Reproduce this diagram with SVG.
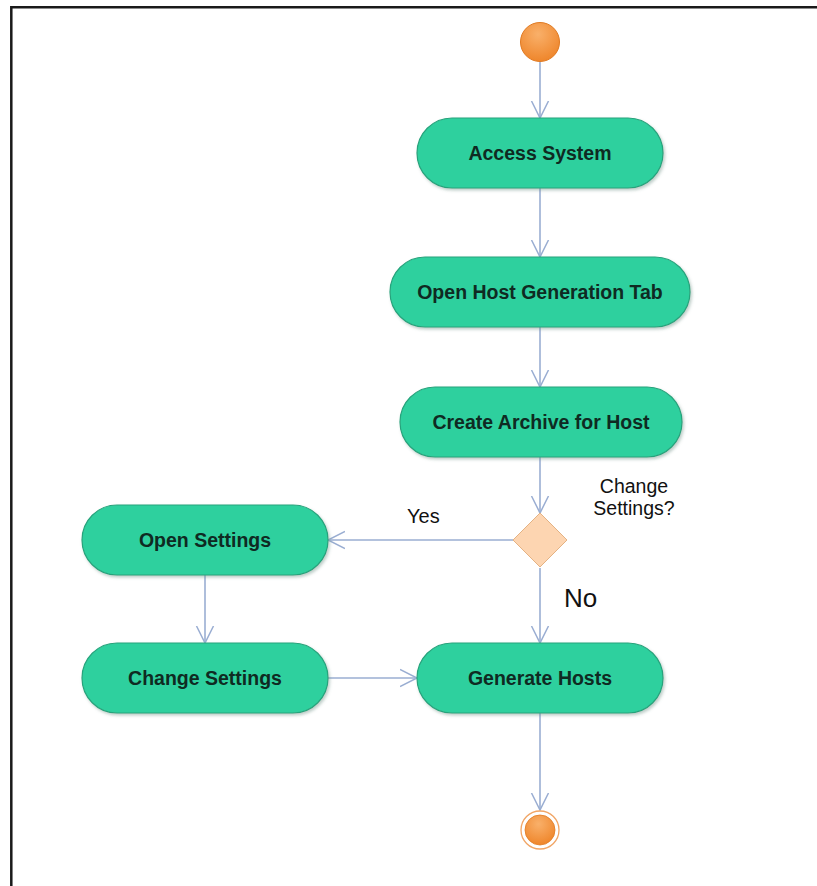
<svg xmlns="http://www.w3.org/2000/svg" width="817" height="886" viewBox="0 0 817 886">
  <style>
    .act rect { fill: #2fd09e; stroke: #27a37c; stroke-width: 1.2; filter: url(#shadow); }
    .act text { font-family: "Liberation Sans", Arial, sans-serif; font-weight: bold; font-size: 19.5px; fill: #0f2a22; text-anchor: middle; }
    .flow { fill: none; stroke: #9aaed2; stroke-width: 1.6; marker-end: url(#open); }
    .lbl { font-family: "Liberation Sans", Arial, sans-serif; fill: #111; }
    .frame { stroke: #1a1a1a; stroke-width: 2.5; fill: none; }
  </style>
  <defs>
    <marker id="open" viewBox="0 0 20 20" refX="17" refY="10" markerWidth="20" markerHeight="20" markerUnits="userSpaceOnUse" orient="auto">
      <path d="M0 1.5 L17 10 L0 18.5" fill="none" stroke="#9aaed2" stroke-width="1.5"/>
    </marker>
    <radialGradient id="ball" cx="0.45" cy="0.3" r="0.75">
      <stop offset="0" stop-color="#f9b06a"/>
      <stop offset="1" stop-color="#ee8327"/>
    </radialGradient>
    <filter id="shadow" x="-10%" y="-20%" width="125%" height="150%">
      <feDropShadow dx="1.5" dy="2" stdDeviation="1.5" flood-color="#6f8f84" flood-opacity="0.45"/>
    </filter>
  </defs>

  <rect width="817" height="886" fill="#ffffff"/>
  <!-- page frame: top and left edges -->
  <path class="frame" d="M11.3 886 V7.3 H817"/>

  <!-- connectors -->
  <g id="connectors">
    <line class="flow" x1="540" y1="62" x2="540" y2="118"/>
    <line class="flow" x1="540" y1="188" x2="540" y2="257"/>
    <line class="flow" x1="540" y1="327" x2="540" y2="387"/>
    <line class="flow" x1="540" y1="457" x2="540" y2="513"/>
    <line class="flow" x1="513" y1="540" x2="328" y2="540"/>
    <line class="flow" x1="540" y1="568" x2="540" y2="643"/>
    <line class="flow" x1="205" y1="575" x2="205" y2="643"/>
    <line class="flow" x1="328" y1="678" x2="417" y2="678"/>
    <line class="flow" x1="540" y1="713" x2="540" y2="810"/>
  </g>

  <!-- start -->
  <g id="start">
    <circle cx="540" cy="42" r="19.5" fill="url(#ball)" stroke="#e07a22" stroke-width="1"/>
  </g>

  <g id="access-system" class="act">
    <rect x="417" y="118" width="246" height="70" rx="35"/>
    <text x="540" y="160">Access System</text>
  </g>

  <g id="open-host-generation-tab" class="act">
    <rect x="390" y="257" width="300" height="70" rx="35"/>
    <text x="540" y="299">Open Host Generation Tab</text>
  </g>

  <g id="create-archive" class="act">
    <rect x="400" y="387" width="282" height="70" rx="35"/>
    <text x="541" y="429">Create Archive for Host</text>
  </g>

  <g id="decision">
    <polygon points="540,513 567,540 540,567 513,540" fill="#fdd5b1" stroke="#e4b283" stroke-width="1"/>
    <text class="lbl" x="634" y="493" font-size="19.5" text-anchor="middle">Change</text>
    <text class="lbl" x="634" y="515" font-size="19.5" text-anchor="middle">Settings?</text>
    <text class="lbl" x="407" y="523" font-size="20">Yes</text>
    <text class="lbl" x="564" y="607" font-size="26">No</text>
  </g>

  <g id="open-settings" class="act">
    <rect x="82" y="505" width="246" height="70" rx="35"/>
    <text x="205" y="547">Open Settings</text>
  </g>

  <g id="change-settings" class="act">
    <rect x="82" y="643" width="246" height="70" rx="35"/>
    <text x="205" y="685">Change Settings</text>
  </g>

  <g id="generate-hosts" class="act">
    <rect x="417" y="643" width="246" height="70" rx="35"/>
    <text x="540" y="685">Generate Hosts</text>
  </g>

  <!-- final -->
  <g id="end">
    <circle cx="540" cy="830" r="19" fill="#fff" stroke="#f1a565" stroke-width="1.3"/>
    <circle cx="540" cy="830" r="15" fill="url(#ball)" stroke="#e07a22" stroke-width="0.8"/>
  </g>
</svg>
